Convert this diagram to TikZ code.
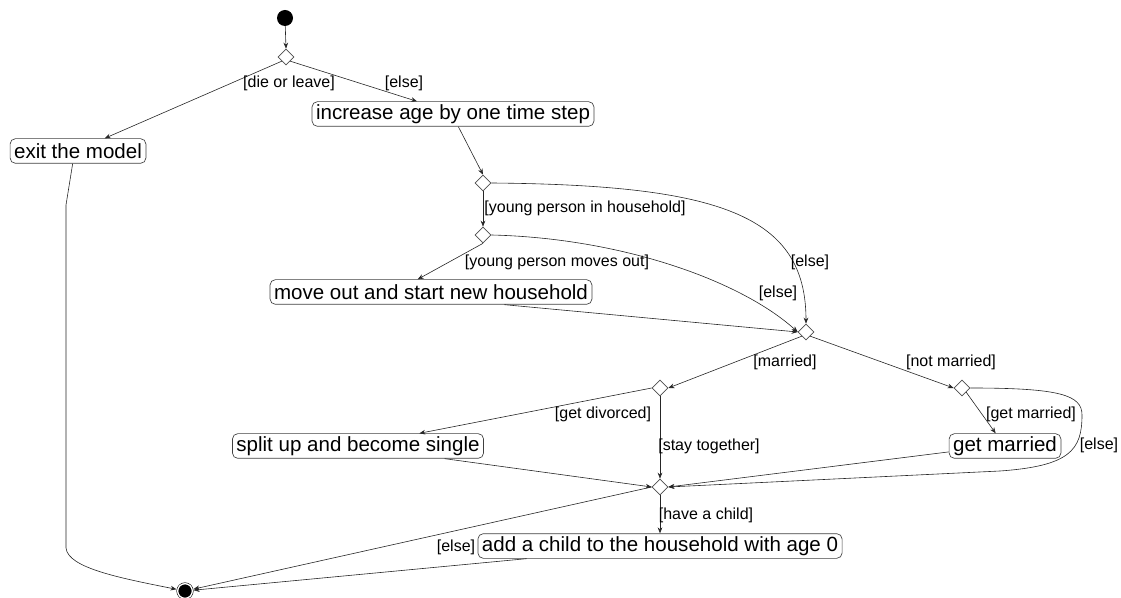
\documentclass[tikz,border=0pt]{standalone}
\usepackage{fontspec}
\setmainfont{Liberation Sans}
\usetikzlibrary{shapes.geometric,arrows.meta}

\begin{document}
\begin{tikzpicture}[x=0.75pt,y=0.75pt,yscale=-1,xscale=1,
  act/.style={draw=black!75,rounded corners=4pt,line width=0.5pt,inner xsep=3pt,inner ysep=0pt,minimum height=18.5pt,font=\fontsize{15.4}{18}\selectfont},
  choice/.style={diamond,draw=black!70,line width=0.5pt,aspect=1,inner sep=0pt,minimum size=12pt},
  guard/.style={inner sep=0.75pt,font=\fontsize{12}{14}\selectfont},
  flow/.style={draw=black!85,line width=0.45pt,-{Stealth[length=4.5pt,width=3.5pt]}},
  initst/.style={circle,fill=black,inner sep=0pt,minimum size=12pt},
  finalst/.style={circle,fill=black,draw=black,line width=0.4pt,double=white,double distance=1pt,inner sep=0pt,outer sep=1pt,minimum size=11pt}]
\path[use as bounding box] (0,0) rectangle (1121,598);

%Shape: Circle
\node[initst] (start) at (285,18) {};
%Shape: Diamond
\node[choice] (dLeave) at (286,57) {};
\node[choice] (dYoung) at (483,183) {};
\node[choice] (dMove) at (483,235) {};
\node[choice] (dMar) at (806,332) {};
\node[choice] (dDiv) at (660,388) {};
\node[choice] (dNot) at (962,388) {};
\node[choice] (dChild) at (660,487) {};
%Shape: Rounded Rectangle
\node[act] (inc) at (453,114) {increase age by one time step};
\node[act] (exitm) at (78,151) {exit the model};
\node[act] (moveout) at (431,292) {move out and start new household};
\node[act] (split) at (358,446) {split up and become single};
\node[act] (wed) at (1005,446) {get married};
\node[act] (child) at (660,546) {add a child to the household with age 0};
%Shape: Circle
\node[finalst] (stop) at (185,591) {};

%Straight Lines
\draw[flow] (start) -- (dLeave.north);
\draw[flow] (dLeave.south west) -- ([xshift=20pt]exitm.north);
\draw[flow] (dLeave.south east) -- ([xshift=-27pt]inc.north);
\draw[flow] ([xshift=4pt]inc.south) -- (dYoung.north);
\draw[flow] (dYoung.south) -- (dMove.north);
\draw[flow] (dMove.south) -- ([xshift=-10pt]moveout.north);
\draw[flow] ([xshift=55pt]moveout.south) -- (dMar.west);
\draw[flow] (dMar.south west) -- (dDiv.east);
\draw[flow] (dMar.south east) -- (dNot.west);
\draw[flow] (dDiv.west) -- ([xshift=46pt]split.north);
\draw[flow] (dDiv.south) -- (dChild.north);
\draw[flow] (dNot.south east) -- ([xshift=-7pt]wed.north);
\draw[flow] ([xshift=65pt]split.south) -- (dChild.west);
\draw[flow] (wed.186) -- (dChild.east);
\draw[flow] (dChild.south) -- (child.north);
\draw[flow] (dChild.west) -- (stop);
\draw[flow] ([xshift=-100pt]child.south) -- (stop);
%Curve Lines
\draw[flow] (dYoung.east) .. controls (720,185) and (806,215) .. (dMar.north);
\draw[flow] (dMove.east) .. controls (620,238) and (740,280) .. (dMar.west);
\draw[flow] (dNot.east) .. controls (1060,388) and (1082,395) .. (1082,415) .. controls (1082,450) and (1070,466) .. (1000,471) -- (dChild.east);
\draw[flow] ([xshift=-4pt]exitm.south) -- (66,205) -- (66,548) .. controls (68,568) and (120,578) .. (stop);

% Text Node
\node[guard] (gLeave) at (289,83) {[die or leave]};
% Text Node
\node[guard] (gInc) at (404,83) {[else]};
% Text Node
\node[guard] (gYoungIn) at (585,208) {[young person in household]};
% Text Node
\node[guard] (gMoveOut) at (557,262) {[young person moves out]};
% Text Node
\node[guard] (gStayA) at (810,262) {[else]};
% Text Node
\node[guard] (gStayB) at (778,293) {[else]};
% Text Node
\node[guard] (gMar) at (785,362) {[married]};
% Text Node
\node[guard] (gNotMar) at (951,362) {[not married]};
% Text Node
\node[guard] (gDiv) at (603,414) {[get divorced]};
% Text Node
\node[guard] (gGetMar) at (1031,414) {[get married]};
% Text Node
\node[guard] (gTogether) at (709,446) {[stay together]};
% Text Node
\node[guard] (gSingle) at (1099,445) {[else]};
% Text Node
\node[guard] (gChild) at (706,515) {[have a child]};
% Text Node
\node[guard] (gNoChild) at (456,547) {[else]};
\end{tikzpicture}
\end{document}
